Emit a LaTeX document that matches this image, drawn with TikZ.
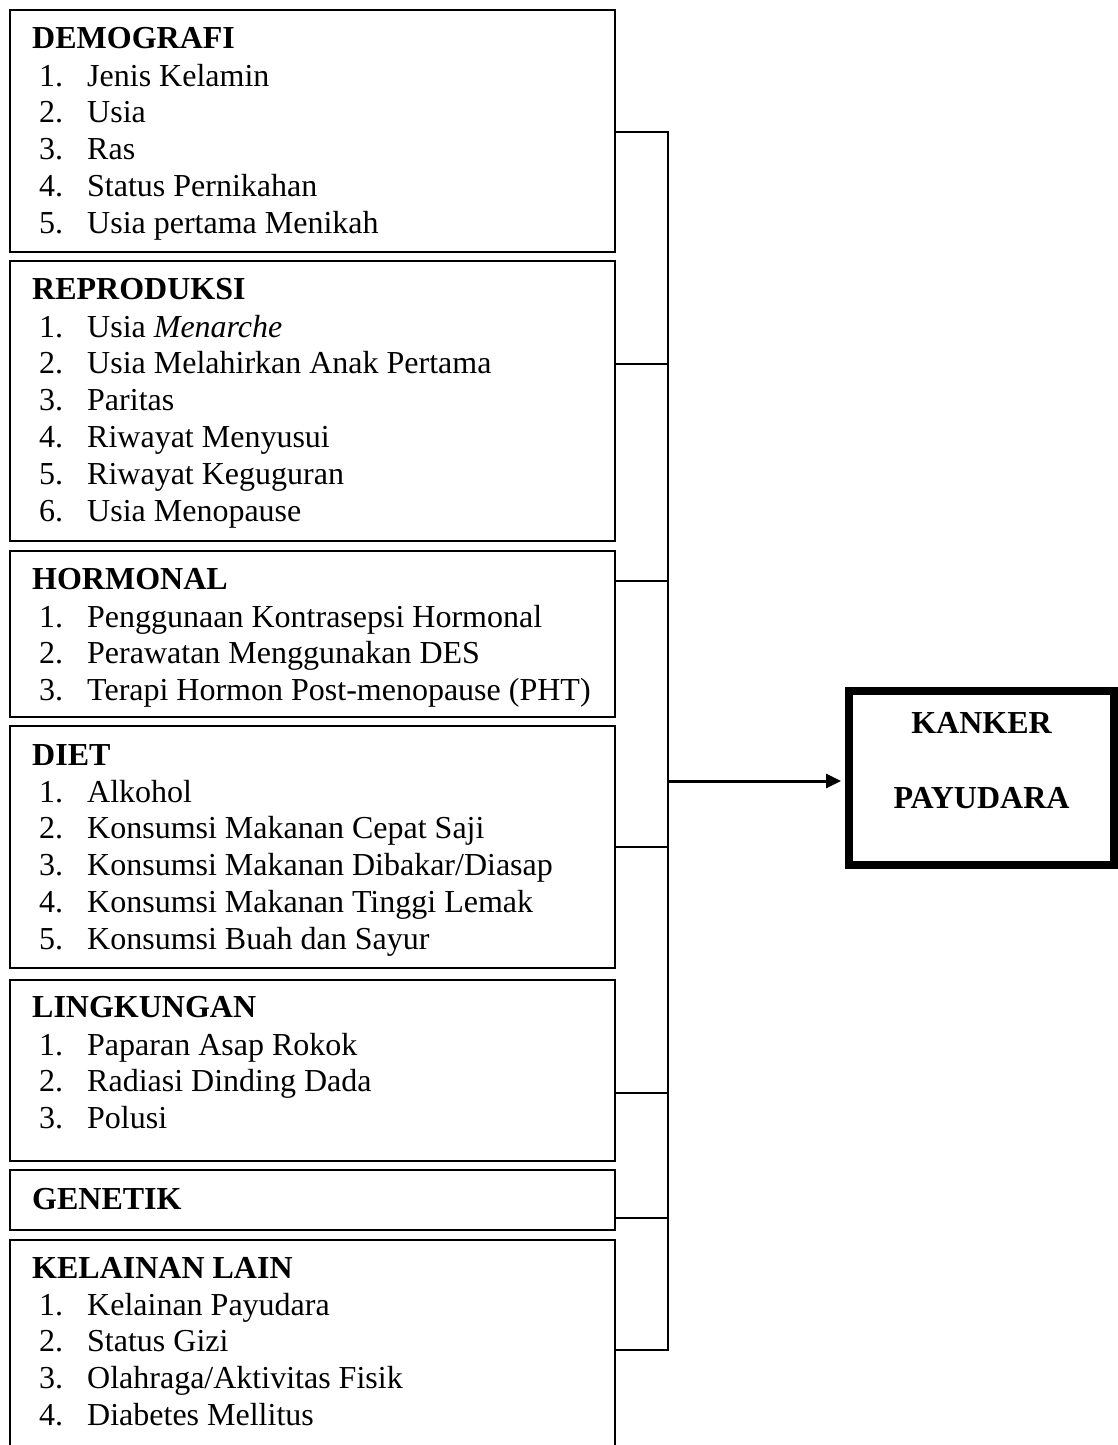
\documentclass[tikz,border=0pt]{standalone}
\usepackage{fontspec}
\setmainfont{Liberation Serif}
\usetikzlibrary{arrows.meta}
\newcommand{\listitems}[3]{%
  \foreach \t [count=\i] in {#3} {
    \node[num] (#1n\i) at (39, {#2+36.8*(\i-1)}) {\i.};
    \node[itm] (#1t\i) at (87, {#2+36.8*(\i-1)}) {\t};
  }}
\begin{document}
\begin{tikzpicture}[x=1pt,y=-1pt,
  fbox/.style={draw, line width=2pt, rectangle, inner sep=0pt, outer sep=0pt, anchor=north west, minimum width=605pt},
  hd/.style={anchor=base west, inner sep=0pt, font=\fontsize{32}{36.8}\selectfont\bfseries},
  num/.style={anchor=base west, inner sep=0pt, font=\fontsize{32}{36.8}\selectfont},
  itm/.style={anchor=base west, inner sep=0pt, font=\fontsize{32}{36.8}\selectfont},
  conn/.style={line width=2pt},
  result/.style={draw, line width=8pt, rectangle, inner sep=0pt, outer sep=0pt, minimum width=265pt, minimum height=174pt}
]
\useasboundingbox (0,0) rectangle (1118,1445);
\clip (0,0) rectangle (1118,1445);
\fill[white] (0,0) rectangle (1118,1445);

% boxes
\node[fbox, minimum height=242pt] (dem) at (10,10) {};
\node[fbox, minimum height=280pt] (rep) at (10,261) {};
\node[fbox, minimum height=166pt] (hor) at (10,551) {};
\node[fbox, minimum height=242pt] (diet) at (10,726) {};
\node[fbox, minimum height=181pt] (ling) at (10,980) {};
\node[fbox, minimum height=60pt] (gen) at (10,1170) {};
\node[fbox, minimum height=230pt] (kel) at (10,1240) {};

% texts
\node[hd] (demH) at (32,48.5) {DEMOGRAFI};
\listitems{dem}{86}{Jenis Kelamin, Usia, Ras, Status Pernikahan, Usia pertama Menikah}
\node[hd] (repH) at (32,299.5) {REPRODUKSI};
\listitems{rep}{337}{{Usia \textit{Menarche}}, Usia Melahirkan Anak Pertama, Paritas, Riwayat Menyusui, Riwayat Keguguran, Usia Menopause}
\node[hd] (horH) at (32,589.5) {HORMONAL};
\listitems{hor}{627}{Penggunaan Kontrasepsi Hormonal, Perawatan Menggunakan DES, Terapi Hormon Post-menopause (PHT)}
\node[hd] (dietH) at (32,765.5) {DIET};
\listitems{diet}{802}{Alkohol, Konsumsi Makanan Cepat Saji, Konsumsi Makanan Dibakar/Diasap, Konsumsi Makanan Tinggi Lemak, Konsumsi Buah dan Sayur}
\node[hd] (lingH) at (32,1017) {LINGKUNGAN};
\listitems{ling}{1055}{Paparan Asap Rokok, Radiasi Dinding Dada, Polusi}
\node[hd] (genH) at (32,1209) {GENETIK};
\node[hd] (kelH) at (32,1278.5) {KELAINAN LAIN};
\listitems{kel}{1315}{Kelainan Payudara, Status Gizi, Olahraga/Aktivitas Fisik, Diabetes Mellitus}

% result box
\node[result] (kanker) at (981.5,778) {};
\node[hd, anchor=base] (k1) at (981.5,733) {KANKER};
\node[hd, anchor=base] (k2) at (981.5,808) {PAYUDARA};

% connectors
\coordinate (j1) at (668,132);
\coordinate (j2) at (668,364);
\coordinate (j3) at (668,581);
\coordinate (jm) at (668,781);
\coordinate (j4) at (668,847);
\coordinate (j5) at (668,1093);
\coordinate (j6) at (668,1218);
\coordinate (j7) at (668,1350);
\draw[conn] (dem.east |- j1) -- (j1);
\draw[conn] (rep.east |- j2) -- (j2);
\draw[conn] (hor.east |- j3) -- (j3);
\draw[conn] (diet.east |- j4) -- (j4);
\draw[conn] (ling.east |- j5) -- (j5);
\draw[conn] (gen.east |- j6) -- (j6);
\draw[conn] (kel.east |- j7) -- (j7);
\draw[conn, line cap=rect] (j1) -- (j7);
\draw[line width=3pt, -{Triangle[length=15pt,width=14pt]}, shorten >=8pt] (jm) -- (jm -| kanker.west);
\end{tikzpicture}
\end{document}
